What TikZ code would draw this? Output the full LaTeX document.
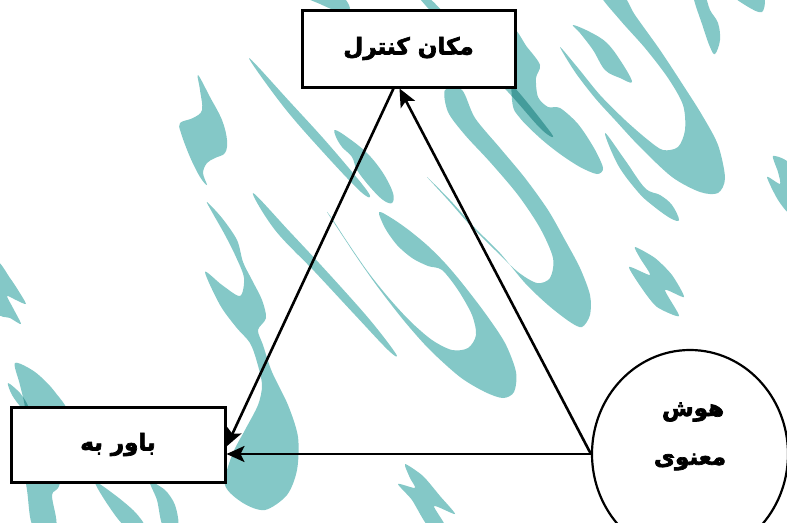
\documentclass[tikz,border=0pt]{standalone}
\usepackage{fontspec}
\newfontfamily\arabicfont[Script=Arabic,BoldFeatures={FakeBold=3}]{DejaVu Sans}
\TeXXeTstate=1
\usetikzlibrary{arrows.meta,shapes.geometric}
\definecolor{tealstroke}{HTML}{84C8C7}
\begin{document}
\begin{tikzpicture}[x=1pt,y=-1pt,
  blob/.style={fill=tealstroke,draw=none},
  labeltext/.style={font=\arabicfont\bfseries\fontsize{23}{27}\selectfont},
  box/.style={draw=black,line width=3pt,fill=white,inner sep=0pt,labeltext},
  conn/.style={line width=2.6pt,-{Stealth[length=18pt,width=16pt,inset=4pt]}}]
\useasboundingbox (0,0) rectangle (787,522);
\clip (0,0) rectangle (787,522);
\begin{scope}[blend mode=multiply]
% left leaf
\fill[blob] plot[smooth cycle,tension=0.6] coordinates {(198,75) (210,97) (222,120) (227,140) (225,153) (215,158) (207,163) (203,173) (207,185) (200,177) (190,157) (181,133) (180,123) (193,118) (202,110) (200,90)};
% thin stroke
\fill[blob] plot[smooth cycle,tension=0.6] coordinates {(249,58) (290,102) (330,146) (368,192) (361,192) (322,151) (283,106)};
% leaf under top box
\fill[blob] plot[smooth cycle,tension=0.6] coordinates {(335,130) (347,137) (367,153) (383,173) (393,193) (392,203) (383,200) (370,187) (357,170) (352,157) (342,147) (336,137)};
% central hook
\fill[blob] plot[smooth cycle,tension=0.5] coordinates {(327,212) (340,232) (360,262) (380,290) (405,322) (430,350) (460,377) (485,392) (503,398) (514,392) (516,372) (505,343) (485,313) (462,283) (445,263) (428,246) (410,231) (393,219) (379,212) (385,228) (397,245) (412,258) (428,266) (442,270) (458,290) (472,315) (476,335) (468,348) (452,350) (432,340) (410,321) (388,297) (368,272) (348,243) (333,220)};
% thin stroke D2
\fill[blob] plot[smooth cycle,tension=0.6] coordinates {(253,193) (290,232) (330,275) (370,320) (396,354) (388,350) (355,315) (315,272) (275,230)};
% wavy stroke behind bottom box
\fill[blob] plot[smooth cycle,tension=0.5] coordinates {(207,202) (222,218) (237,240) (243,262) (252,280) (262,300) (266,318) (258,330) (263,345) (272,372) (288,405) (298,437) (297,470) (287,495) (265,510) (243,503) (225,485) (232,455) (245,430) (258,405) (262,385) (257,362) (250,343) (236,327) (220,305) (205,272) (222,285) (240,296) (244,278) (236,257) (225,235) (212,212)};
% left edge zigzag
\fill[blob] plot[smooth cycle,tension=0.4] coordinates {(-3,262) (10,278) (18,290) (26,304) (16,300) (7,296) (13,308) (21,324) (10,318) (-3,312)};
% bottom-left strokes
\fill[blob] plot[smooth cycle,tension=0.5] coordinates {(15,363) (35,372) (55,392) (70,420) (60,483) (52,495) (56,526) (33,526) (27,490) (20,440) (25,410) (20,385)};
\fill[blob] plot[smooth cycle,tension=0.5] coordinates {(8,383) (20,393) (28,406) (22,408) (12,395)};
\fill[blob] plot[smooth cycle,tension=0.5] coordinates {(95,482) (115,495) (135,512) (144,526) (125,526) (108,505)};
\fill[blob] plot[smooth cycle,tension=0.5] coordinates {(150,482) (165,490) (175,505) (178,526) (163,526) (157,500)};
% bottom zigzag
\fill[blob] plot[smooth cycle,tension=0.4] coordinates {(405,464) (423,476) (440,496) (455,514) (434,506) (445,526) (428,526) (412,500) (398,484) (415,488) (410,478)};
% right zigzag
\fill[blob] plot[smooth cycle,tension=0.4] coordinates {(635,247) (655,258) (672,275) (684,297) (665,290) (679,316) (657,307) (643,290) (629,267) (650,275) (640,258)};
% thin stroke with leaf end
\fill[blob] plot[smooth cycle,tension=0.6] coordinates {(605,133) (625,160) (645,188) (660,195) (672,205) (679,220) (670,218) (652,205) (638,192) (618,165)};
% top-right hook
\fill[blob] plot[smooth cycle,tension=0.5] coordinates {(560,47) (575,72) (595,98) (615,120) (640,147) (672,177) (700,192) (718,193) (725,178) (718,145) (702,115) (683,85) (660,50) (635,15) (622,-6) (600,-6) (620,20) (645,48) (668,78) (683,105) (685,130) (678,147) (663,150) (648,140) (625,120) (600,95) (578,68)};
% top leaves
\fill[blob] plot[smooth cycle,tension=0.6] coordinates {(573,25) (590,32) (607,43) (622,63) (632,82) (620,78) (605,70) (593,50) (580,33)};
\fill[blob] plot[smooth cycle,tension=0.6] coordinates {(693,-6) (703,27) (710,47) (715,54) (720,40) (718,23) (710,10) (704,-6)};
\fill[blob] plot[smooth cycle,tension=0.6] coordinates {(733,-6) (745,5) (762,12) (762,-6)};
\fill[blob] plot[smooth cycle,tension=0.4] coordinates {(773,156) (790,165) (790,212) (778,200) (767,177) (780,184) (778,172)};
% stroke right of top box
\fill[blob] plot[smooth cycle,tension=0.5] coordinates {(512,30) (527,47) (540,65) (536,78) (538,97) (548,107) (560,108) (578,124) (594,148) (603,168) (597,174) (580,167) (560,154) (540,138) (520,118) (512,100)};
% long hook
\fill[blob] plot[smooth cycle,tension=0.5] coordinates {(427,177) (450,200) (475,228) (500,253) (525,283) (548,305) (570,322) (582,327) (590,315) (590,295) (580,268) (565,240) (548,210) (525,178) (500,148) (475,118) (462,90) (445,90) (448,112) (465,135) (490,162) (518,195) (540,228) (553,258) (550,278) (537,283) (518,272) (495,250) (470,225) (448,200)};
% top edge pieces
\fill[blob] plot[smooth cycle,tension=0.5] coordinates {(300,-6) (320,4) (340,12) (350,8) (338,-6)};
\fill[blob] plot[smooth cycle,tension=0.6] coordinates {(425,-6) (470,40) (515,88) (545,125) (553,137) (540,128) (508,92) (462,45) (416,-6)};
\end{scope}

\node[box,minimum width=213pt,minimum height=77pt] (makan) at (408.5,48.5) {\beginR مکان کنترل\endR};
\node[box,minimum width=214pt,minimum height=75pt] (bavar) at (118,444.5) {\beginR باور به\endR};
\node[ellipse,draw=black,line width=2.2pt,fill=white,minimum width=196pt,minimum height=208pt,inner sep=0pt] (hosh) at (690,454) {};
\node[labeltext] (hoshA) at (693,412) {\beginR هوش\endR};
\node[labeltext] (hoshB) at (690,462) {\beginR معنوی\endR};

\coordinate (mkIn) at ([xshift=-9pt]makan.south);
\coordinate (mkOut) at ([xshift=-15pt]makan.south);
\coordinate (bvIn) at ([yshift=-2pt]bavar.east);

\draw[conn] (hosh.west) -- (hosh.west -| bavar.east);
\draw[conn] (hosh.west) -- (mkIn);
\draw[conn] (mkOut) -- (bvIn);
\end{tikzpicture}
\end{document}
